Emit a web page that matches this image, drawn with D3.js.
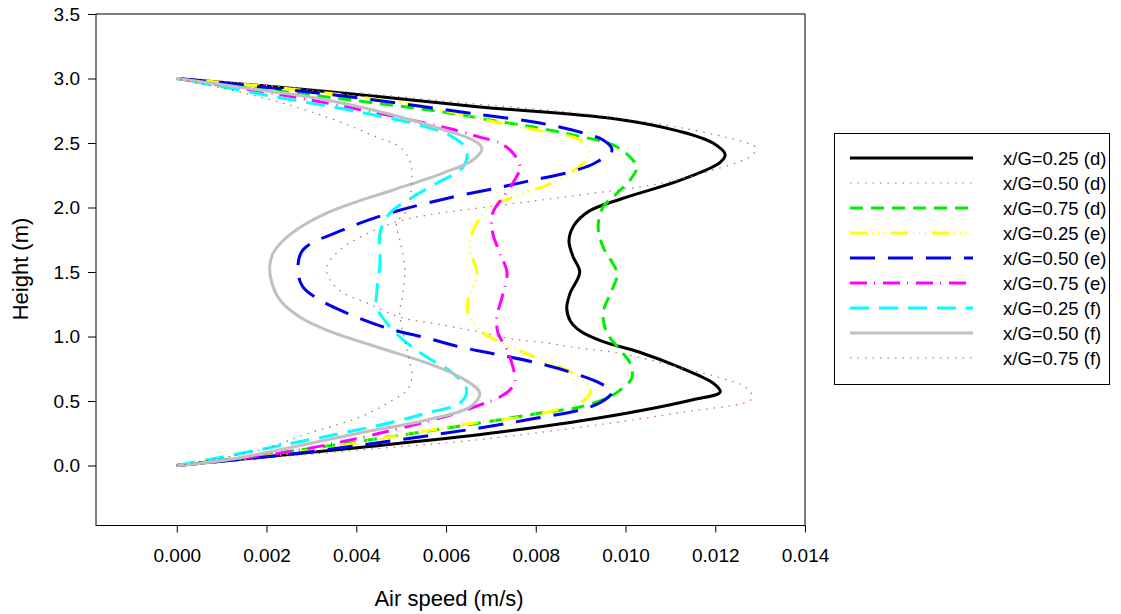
<!DOCTYPE html>
<html>
<head>
<meta charset="utf-8">
<title>Air speed profiles</title>
<script src="https://d3js.org/d3.v7.min.js"></script>
<style>
    body { margin: 0; background: #fff; }
    text { font-family: Arial, "Liberation Sans", sans-serif; fill: #000; }
    .axis path, .axis line { stroke: #000; stroke-width: 1px; }
</style>
</head>
<body>
<svg id="chart" width="1121" height="614"></svg>
<script>
// each profile: [air speed (m/s), height (m)]
const d25 = [[0,0],[0.00408,0.14],[0.00698,0.25],[0.00943,0.37],[0.0115,0.51],[0.01211,0.57],[0.01195,0.64],[0.01121,0.76],[0.0103,0.88],[0.0095,0.96],[0.009,1.04],[0.00877,1.12],[0.00869,1.22],[0.00876,1.33],[0.00898,1.5],[0.00883,1.62],[0.00874,1.74],[0.00885,1.86],[0.00918,1.97],[0.00993,2.07],[0.01121,2.21],[0.01211,2.35],[0.01222,2.41],[0.01195,2.5],[0.01121,2.59],[0.00972,2.69],[0.00675,2.78],[0.00334,2.9],[0,3.0]];
const d50 = [[0,0],[0.00408,0.12],[0.00698,0.21],[0.01121,0.41],[0.01282,0.52],[0.01271,0.6],[0.01211,0.68],[0.01121,0.76],[0.00988,0.87],[0.00898,0.91],[0.00825,0.95],[0.00749,0.98],[0.00675,1.035],[0.00593,1.09],[0.00497,1.15],[0.00424,1.26],[0.0037,1.34],[0.00341,1.44],[0.00334,1.54],[0.00363,1.67],[0.00408,1.77],[0.00482,1.88],[0.00557,1.94],[0.00682,2.0],[0.00861,2.08],[0.01083,2.19],[0.01195,2.29],[0.01284,2.41],[0.01289,2.47],[0.01271,2.5],[0.01121,2.62],[0.00898,2.73],[0.00675,2.8],[0.00334,2.91],[0,3.0]];
const d75 = [[0,0],[0.00274,0.12],[0.00675,0.33],[0.00825,0.415],[0.00898,0.453],[0.00959,0.523],[0.00988,0.585],[0.01014,0.678],[0.0101,0.795],[0.00988,0.895],[0.00959,1.027],[0.0095,1.182],[0.0097,1.36],[0.00981,1.49],[0.0095,1.694],[0.00939,1.849],[0.0095,2.004],[0.00972,2.081],[0.0101,2.213],[0.01025,2.314],[0.0101,2.391],[0.00972,2.485],[0.00883,2.562],[0.00794,2.624],[0.00698,2.678],[0.00593,2.74],[0.00334,2.857],[0,3.0]];
const e25 = [[0,0],[0.00274,0.105],[0.00675,0.337],[0.00787,0.384],[0.00861,0.446],[0.00898,0.484],[0.00921,0.562],[0.00914,0.64],[0.00883,0.717],[0.00787,0.857],[0.00698,0.996],[0.00675,1.05],[0.00649,1.182],[0.00649,1.283],[0.00669,1.492],[0.00653,1.671],[0.00658,1.802],[0.00691,1.981],[0.00749,2.081],[0.00825,2.174],[0.00861,2.236],[0.00914,2.368],[0.00921,2.422],[0.00898,2.523],[0.00825,2.585],[0.0072,2.655],[0.00557,2.779],[0.00274,2.911],[0,3.0]];
const e50 = [[0,0],[0.00274,0.097],[0.00675,0.291],[0.00803,0.368],[0.00898,0.43],[0.00945,0.49],[0.0097,0.57],[0.00945,0.635],[0.00883,0.717],[0.00803,0.795],[0.00698,0.872],[0.00631,0.919],[0.00557,0.988],[0.00468,1.066],[0.00379,1.182],[0.00319,1.283],[0.00281,1.384],[0.0027,1.516],[0.00281,1.671],[0.0037,1.826],[0.00475,1.957],[0.00615,2.081],[0.00713,2.151],[0.00794,2.213],[0.00876,2.275],[0.00932,2.345],[0.0097,2.446],[0.0095,2.523],[0.00898,2.585],[0.00809,2.655],[0.00682,2.717],[0.00334,2.88],[0,3.0]];
const e75 = [[0,0],[0.00274,0.12],[0.00586,0.368],[0.00675,0.469],[0.0072,0.531],[0.00742,0.585],[0.00754,0.663],[0.00749,0.764],[0.00736,0.895],[0.00716,1.027],[0.00713,1.151],[0.00725,1.306],[0.00736,1.492],[0.0072,1.647],[0.00704,1.802],[0.00704,1.957],[0.00727,2.081],[0.00749,2.19],[0.00765,2.314],[0.00749,2.422],[0.0072,2.5],[0.00675,2.546],[0.00602,2.616],[0.00274,2.849],[0,3.0]];
const f25 = [[0,0],[0.00147,0.097],[0.00259,0.174],[0.0037,0.252],[0.00482,0.337],[0.00557,0.407],[0.00631,0.484],[0.00646,0.585],[0.00615,0.717],[0.00557,0.841],[0.00513,0.95],[0.00475,1.074],[0.00446,1.229],[0.00446,1.36],[0.00453,1.57],[0.00453,1.802],[0.00475,1.957],[0.00526,2.081],[0.0058,2.19],[0.00638,2.314],[0.00646,2.446],[0.00615,2.546],[0.00557,2.624],[0.00408,2.74],[0.00259,2.833],[0,3.0]];
const f50 = [[0,0],[0.00111,0.043],[0.00259,0.143],[0.00408,0.252],[0.00557,0.353],[0.00653,0.453],[0.00675,0.562],[0.00631,0.686],[0.00557,0.795],[0.00446,0.919],[0.00334,1.05],[0.00274,1.151],[0.0023,1.283],[0.00212,1.415],[0.00207,1.54],[0.00214,1.64],[0.00236,1.74],[0.00272,1.84],[0.00334,1.957],[0.00405,2.05],[0.00482,2.136],[0.00593,2.267],[0.0066,2.368],[0.0068,2.461],[0.0066,2.523],[0.00593,2.605],[0.00482,2.717],[0.00334,2.833],[0.00185,2.911],[0,3.0]];
const f75 = [[0,0],[0.00185,0.12],[0.00296,0.252],[0.00408,0.376],[0.00482,0.508],[0.00513,0.585],[0.00524,0.686],[0.00513,0.895],[0.00497,1.182],[0.00504,1.337],[0.00508,1.539],[0.00497,1.748],[0.0049,1.88],[0.00513,1.981],[0.00524,2.236],[0.00519,2.368],[0.00497,2.469],[0.00446,2.546],[0.00334,2.701],[0.00185,2.857],[0,3.0]];

const seriesData = [d25, d50, d75, e25, e50, e75, f25, f50, f75];
const labels = ['x/G=0.25 (d)', 'x/G=0.50 (d)', 'x/G=0.75 (d)', 'x/G=0.25 (e)', 'x/G=0.50 (e)', 'x/G=0.75 (e)', 'x/G=0.25 (f)', 'x/G=0.50 (f)', 'x/G=0.75 (f)'];
const xTicks = [0, 0.002, 0.004, 0.006, 0.008, 0.010, 0.012, 0.014];
const yTicks = [0, 0.5, 1.0, 1.5, 2.0, 2.5, 3.0, 3.5];

const styles = [
    { color: '#000000', width: 3, dash: null },
    { color: '#c06a6a', width: 1.2, dash: '1.5,6' },
    { color: '#00ee00', width: 3, dash: '13,8' },
    { color: '#ffff00', width: 3, dash: '17,5,1,5,1,5,1,6' },
    { color: '#0000ee', width: 3, dash: '25,13' },
    { color: '#ff00ff', width: 3, dash: '17,7,1,8' },
    { color: '#00ffff', width: 3, dash: '19,10' },
    { color: '#c0c0c0', width: 3, dash: null },
    { color: '#9a7070', width: 1.2, dash: '1.5,6' }
];

const svg = d3.select('#chart');
const plot = { left: 96, right: 805, top: 14, bottom: 525.5 };

const x = d3.scaleLinear().domain([-0.0018, 0.014]).range([plot.left, plot.right]);
const y = d3.scaleLinear().domain([-0.465, 3.5]).range([plot.bottom, plot.top]);

// frame
svg.append('rect')
    .attr('x', plot.left).attr('y', plot.top)
    .attr('width', plot.right - plot.left).attr('height', plot.bottom - plot.top)
    .attr('fill', 'none').attr('stroke', '#000').attr('stroke-width', 1);

svg.append('g')
    .attr('class', 'axis')
    .attr('transform', `translate(0,${plot.bottom})`)
    .call(d3.axisBottom(x).tickValues(xTicks).tickFormat(d3.format('.3f')).tickSize(7).tickSizeOuter(0).tickPadding(16))
    .call(g => g.select('.domain').remove())
    .selectAll('text').style('font-size', '19px');

svg.append('g')
    .attr('class', 'axis')
    .attr('transform', `translate(${plot.left},0)`)
    .call(d3.axisLeft(y).tickValues(yTicks).tickFormat(d3.format('.1f')).tickSize(8).tickSizeOuter(0).tickPadding(8))
    .call(g => g.select('.domain').remove())
    .selectAll('text').style('font-size', '19px');

svg.selectAll('.axis text').attr('font-family', null);

const line = d3.line()
    .x(d => x(d[0]))
    .y(d => y(d[1]))
    .curve(d3.curveCatmullRom.alpha(0.5));

seriesData.forEach((data, i) => {
    const s = styles[i];
    svg.append('path')
        .datum(data)
        .attr('d', line)
        .attr('fill', 'none')
        .attr('stroke', s.color)
        .attr('stroke-width', s.width)
        .attr('stroke-dasharray', s.dash);
});

// axis titles
svg.append('text')
    .attr('x', 449).attr('y', 606)
    .attr('text-anchor', 'middle')
    .style('font-size', '22px')
    .text('Air speed (m/s)');

svg.append('text')
    .attr('transform', 'translate(28,269) rotate(-90)')
    .attr('text-anchor', 'middle')
    .style('font-size', '22px')
    .text('Height (m)');

// legend
const legend = svg.append('g');
legend.append('rect')
    .attr('x', 834.5).attr('y', 133.5)
    .attr('width', 275).attr('height', 251)
    .attr('fill', '#fff').attr('stroke', '#000').attr('stroke-width', 1);

labels.forEach((lab, i) => {
    const cy = 158 + i * 25;
    const s = styles[i];
    legend.append('line')
        .attr('x1', 850).attr('x2', 973)
        .attr('y1', cy).attr('y2', cy)
        .attr('stroke', s.color)
        .attr('stroke-width', s.width)
        .attr('stroke-dasharray', s.dash);
    legend.append('text')
        .attr('x', 1003).attr('y', cy + 6.5)
        .style('font-size', '18.5px')
        .text(lab);
});
</script>
</body>
</html>
